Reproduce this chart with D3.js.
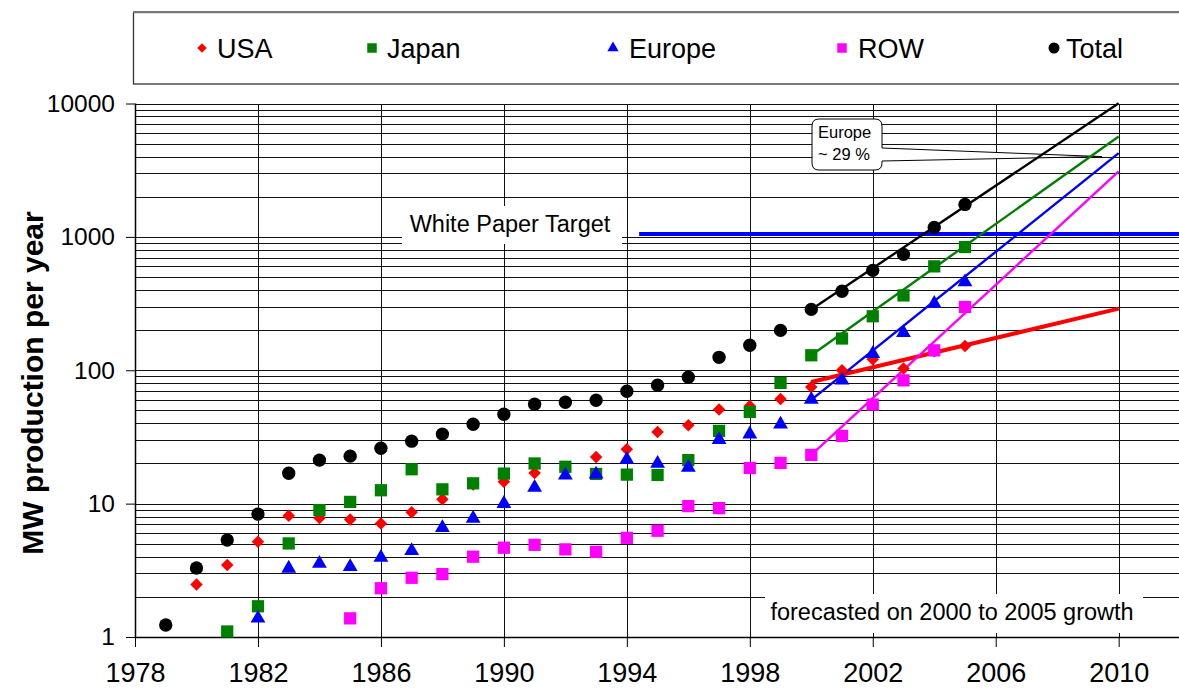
<!DOCTYPE html>
<html>
<head>
<meta charset="utf-8">
<script src="https://cdn.jsdelivr.net/npm/d3@7"></script>
<style>
  html, body { margin: 0; padding: 0; background: #fff; }
  svg { display: block; font-family: "Liberation Sans", Arial, sans-serif; }
</style>
</head>
<body>
<svg id="chart" width="1179" height="691"></svg>
<script>
// ---------------- DATA ----------------
const seriesNames = ["USA", "Japan", "Europe", "ROW", "Total"];

const usaYears   = d3.range(1980, 2006);
const usaValues  = [2.48, 3.46, 5.17, 8.1, 7.8, 7.6, 7.1, 8.6, 10.8, 13.9, 14.6, 17.0, 18.1, 22.4, 25.6, 34.5, 38.7, 50.8, 54, 61, 75, 100, 121, 103, 139, 152];

const japanYears  = d3.range(1981, 2006);
const japanValues = [1.1, 1.7, 5.03, 8.94, 10.3, 12.6, 18.1, 12.8, 14.2, 16.8, 20.0, 18.9, 16.7, 16.5, 16.4, 21.2, 35.1, 48.7, 80.4, 129.5, 173, 254, 364, 601, 839];

const europeYears  = d3.range(1982, 2006);
const europeValues = [1.38, 3.27, 3.56, 3.36, 3.95, 4.43, 6.59, 7.75, 10.0, 13.2, 16.3, 16.6, 21.4, 20.0, 18.7, 30.2, 33.2, 39.4, 60.3, 84.2, 133, 191, 316, 459];

const rowYears  = d3.range(1985, 2006);
const rowValues = [1.38, 2.32, 2.78, 2.96, 4.0, 4.67, 4.91, 4.54, 4.35, 5.54, 6.26, 9.58, 9.25, 18.5, 20.2, 23.2, 32.2, 55.3, 84, 141, 298];

const totalYears  = d3.range(1979, 2006);
const totalValues = [1.23, 3.29, 5.33, 8.35, 16.9, 21.2, 22.7, 26.0, 29.4, 33.2, 39.4, 46.8, 55.6, 57.6, 59.6, 69.6, 77.2, 88.6, 125, 154, 199, 286, 391, 561, 739, 1178, 1751];

// forecast lines (fit on 2000-2005 growth)
const forecastYears  = [2000, 2010];
const forecastUSA    = [81.7, 290];
const forecastJapan  = [129.5, 5660];
const forecastEurope = [60, 4245];
const forecastROW    = [23.2, 3093];
const forecastTotal  = [286, 10050];

// White Paper target
const targetYears = [1994.4, 2012];
const targetValue = 1050;

// axis ticks
const xTickYears  = [1978, 1982, 1986, 1990, 1994, 1998, 2002, 2006, 2010];
const yTickValues = [1, 10, 100, 1000, 10000];

// ---------------- SETUP ----------------
const svg = d3.select("#chart");
const plotLeft = 135, plotTop = 103.5, plotBottom = 637, plotRight = 1179;

const x = d3.scaleLinear().domain([1978, 2012]).range([plotLeft, plotLeft + 34 * 30.74]);
const y = d3.scaleLog().domain([1, 10000]).range([plotBottom, plotTop]);

const colors = { USA: "#ff0000", Japan: "#008000", Europe: "#0000ff", ROW: "#ff00ff", Total: "#000000" };

// ---------------- GRID ----------------
const gridVals = [];
for (let d = 1; d < 10000; d *= 10) for (let m = 1; m <= 9; m++) gridVals.push(d * m);
gridVals.push(10000);

const grid = svg.append("g").attr("shape-rendering", "crispEdges");
grid.selectAll("line.h").data(gridVals.filter(v => v > 1)).join("line")
  .attr("x1", plotLeft).attr("x2", plotRight)
  .attr("y1", d => Math.round(y(d)) + 0.5).attr("y2", d => Math.round(y(d)) + 0.5)
  .attr("stroke", "#111").attr("stroke-width", 1);

grid.selectAll("line.v").data(xTickYears.filter(v => v > 1978)).join("line")
  .attr("x1", d => Math.round(x(d)) + 0.5).attr("x2", d => Math.round(x(d)) + 0.5)
  .attr("y1", plotTop).attr("y2", plotBottom)
  .attr("stroke", "#111").attr("stroke-width", 1);

// ---------------- AXES ----------------
const xAxis = d3.axisBottom(x).tickValues(xTickYears).tickFormat(d3.format("d")).tickSize(10).tickPadding(16);
const gx = svg.append("g").attr("transform", `translate(0,${plotBottom})`).call(xAxis);
gx.select(".domain").attr("d", `M${plotLeft},0.5H${plotRight}`).attr("stroke", "#000").attr("stroke-width", 1.5);
gx.selectAll(".tick line").attr("stroke", "#000");
gx.selectAll(".tick text").attr("font-size", 27).attr("fill", "#000")
  .attr("font-family", "Liberation Sans, Arial, sans-serif").attr("dy", "0.71em");

const yAxis = d3.axisLeft(y).tickValues(yTickValues).tickFormat(d3.format("d")).tickSize(9).tickPadding(11);
const gy = svg.append("g").attr("transform", `translate(${plotLeft},0)`).call(yAxis);
gy.select(".domain").attr("d", `M0.5,${plotTop}V${plotBottom}`).attr("stroke", "#000").attr("stroke-width", 1.5);
gy.selectAll(".tick line").attr("stroke", "#000");
gy.selectAll(".tick text").attr("font-size", 24.5).attr("fill", "#000")
  .attr("font-family", "Liberation Sans, Arial, sans-serif");

// y title
svg.append("text")
  .attr("transform", `translate(43,${383}) rotate(-90)`)
  .attr("text-anchor", "middle")
  .attr("font-size", 30).attr("font-weight", "bold")
  .text("MW production per year");

// ---------------- LABEL BOXES ----------------
svg.append("rect").attr("x", 402).attr("y", 206).attr("width", 220).attr("height", 38).attr("fill", "#fff");
svg.append("text").attr("x", 510).attr("y", 232).attr("text-anchor", "middle")
  .attr("font-size", 23.5).text("White Paper Target");

svg.append("rect").attr("x", 765).attr("y", 594).attr("width", 378).attr("height", 39).attr("fill", "#fff");
svg.append("text").attr("x", 952).attr("y", 619.5).attr("text-anchor", "middle")
  .attr("font-size", 23.5).text("forecasted on 2000 to 2005 growth");

// Callout "Europe ~ 29 %"
const tipX = x(2009.45), tipY = y(4000);
const bx = 812, by = 119, bw = 70, bh = 51, r = 7;
const calloutPath = `M${bx + r},${by} H${bx + bw - r} Q${bx + bw},${by} ${bx + bw},${by + r}
  V148 L${tipX},${tipY} L${bx + bw},161
  V${by + bh - r} Q${bx + bw},${by + bh} ${bx + bw - r},${by + bh}
  H${bx + r} Q${bx},${by + bh} ${bx},${by + bh - r} V${by + r} Q${bx},${by} ${bx + r},${by} Z`;
svg.append("path").attr("d", calloutPath).attr("fill", "#fff").attr("stroke", "#000").attr("stroke-width", 1);
svg.append("text").attr("x", 818).attr("y", 138).attr("font-size", 16.5).text("Europe");
svg.append("text").attr("x", 818).attr("y", 160).attr("font-size", 16.5).text("~ 29 %");

// ---------------- TARGET LINE ----------------
svg.append("line")
  .attr("x1", x(targetYears[0])).attr("x2", x(targetYears[1]))
  .attr("y1", y(targetValue)).attr("y2", y(targetValue))
  .attr("stroke", "#0000ff").attr("stroke-width", 4);

// ---------------- FORECAST LINES ----------------
const lineGen = d3.line().x(d => x(d[0])).y(d => y(d[1]));
const forecasts = [
  { name: "USA", vals: forecastUSA, w: 4 },
  { name: "Japan", vals: forecastJapan, w: 2.4 },
  { name: "Europe", vals: forecastEurope, w: 2.4 },
  { name: "ROW", vals: forecastROW, w: 2.4 },
  { name: "Total", vals: forecastTotal, w: 2.4 }
];
svg.append("g").selectAll("path").data(forecasts).join("path")
  .attr("d", d => lineGen(forecastYears.map((yr, i) => [yr, d.vals[i]])))
  .attr("fill", "none").attr("stroke", d => colors[d.name]).attr("stroke-width", d => d.w);

// ---------------- MARKERS ----------------
const diamond = d3.symbol().type(d3.symbolSquare).size(78)();
const square = d3.symbol().type(d3.symbolSquare).size(150)();
const triangle = d3.symbol().type(d3.symbolTriangle).size(95)();
const circle = d3.symbol().type(d3.symbolCircle).size(140)();

const series = [
  { name: "USA", years: usaYears, vals: usaValues, shape: diamond, rot: 45 },
  { name: "Japan", years: japanYears, vals: japanValues, shape: square, rot: 0 },
  { name: "Europe", years: europeYears, vals: europeValues, shape: triangle, rot: 0 },
  { name: "ROW", years: rowYears, vals: rowValues, shape: square, rot: 0 },
  { name: "Total", years: totalYears, vals: totalValues, shape: circle, rot: 0 }
];

series.forEach(s => {
  svg.append("g").selectAll("path").data(s.years.map((yr, i) => [yr, s.vals[i]])).join("path")
    .attr("d", s.shape)
    .attr("transform", d => `translate(${x(d[0])},${y(d[1])}) rotate(${s.rot})`)
    .attr("fill", colors[s.name]);
});

// ---------------- LEGEND ----------------
svg.append("rect").attr("x", 133.5).attr("y", 12.5).attr("width", 1060).attr("height", 71.5)
  .attr("fill", "#fff").attr("stroke", "#333").attr("stroke-width", 1.3);
svg.append("line").attr("x1", 133).attr("x2", 1179).attr("y1", 12).attr("y2", 12)
  .attr("stroke", "#777").attr("stroke-width", 2);

const legendPos = [
  { name: "USA", mx: 202, tx: 217, shape: d3.symbol().type(d3.symbolSquare).size(45)(), rot: 45 },
  { name: "Japan", mx: 372, tx: 387, shape: d3.symbol().type(d3.symbolSquare).size(90)(), rot: 0 },
  { name: "Europe", mx: 613, tx: 629, shape: d3.symbol().type(d3.symbolTriangle).size(55)(), rot: 0 },
  { name: "ROW", mx: 842, tx: 858, shape: d3.symbol().type(d3.symbolSquare).size(90)(), rot: 0 },
  { name: "Total", mx: 1054, tx: 1066, shape: d3.symbol().type(d3.symbolCircle).size(95)(), rot: 0 }
];
const lg = svg.append("g");
legendPos.forEach(l => {
  lg.append("path").attr("d", l.shape)
    .attr("transform", `translate(${l.mx},48) rotate(${l.rot})`)
    .attr("fill", colors[l.name]);
  lg.append("text").attr("x", l.tx).attr("y", 57.5).attr("font-size", 27).text(l.name);
});
</script>
</body>
</html>
